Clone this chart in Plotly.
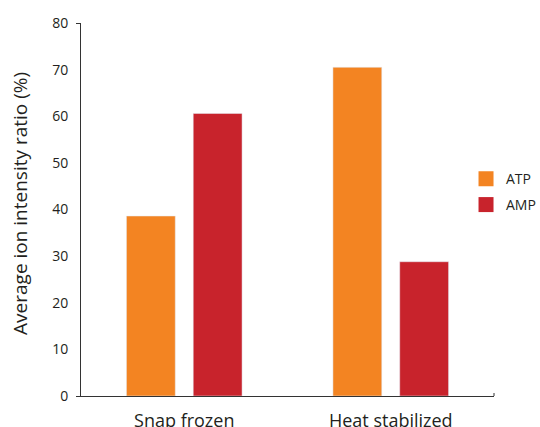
import plotly.graph_objects as go

categories = ["Snap frozen", "Heat stabilized"]
atp = [38.6, 70.5]
amp = [60.6, 28.8]
series_names = ["ATP", "AMP"]
colors = ["#F38422", "#C8232C"]
ytick_vals = [0, 10, 20, 30, 40, 50, 60, 70, 80]

FONT = "Open Sans"
TXT = "#231F20"

fig = go.Figure()
for name, vals, col in zip(series_names, [atp, amp], colors):
    fig.add_trace(go.Bar(x=categories, y=vals, name=name, marker_color=col,
                         showlegend=False))
# legend swatches (larger squares), one legend per entry
for name, col, lg in zip(series_names, colors, ["legend", "legend2"]):
    fig.add_trace(go.Scatter(x=[None], y=[None], mode="markers", name=name,
                             marker=dict(symbol="square", size=15, color=col),
                             legend=lg))

leg_common = dict(xref="container", x=0.863, xanchor="left", yref="paper",
                  yanchor="top", font=dict(size=14, color=TXT),
                  bgcolor="rgba(0,0,0,0)")

fig.update_layout(
    width=540, height=427,
    margin=dict(l=81, r=46, t=22.5, b=30.5, autoexpand=False),
    paper_bgcolor="white", plot_bgcolor="white",
    barmode="group", bargap=0.353, bargroupgap=0.269,
    font=dict(family=FONT, color=TXT),
    legend=dict(y=0.624, **leg_common),
    legend2=dict(y=0.555, **leg_common),
    xaxis=dict(showline=True, linecolor="#333", linewidth=1, ticks="",
               tickfont=dict(size=18, color=TXT), automargin=False,
               showgrid=False, zeroline=False, ticklabelstandoff=8),
    yaxis=dict(range=[0, 80], tickvals=ytick_vals, showline=True,
               linecolor="#333", linewidth=1, ticks="", showgrid=False,
               zeroline=False, tickfont=dict(size=14, color=TXT),
               ticklabelstandoff=9, automargin=False,
               minor=dict(tickvals=[0, 80], ticks="outside", ticklen=4,
                          tickcolor="#333")),
    annotations=[dict(text="Average ion intensity ratio (%)", textangle=-90,
                      xref="paper", yref="paper", x=0, y=0.515,
                      xanchor="center", yanchor="middle", xshift=-61,
                      showarrow=False, font=dict(size=19, color=TXT))],
)
fig.add_shape(type="line", xref="paper", yref="y", x0=1, x1=1,
              ysizemode="pixel", yanchor=0, y0=-3, y1=3,
              line=dict(color="#333", width=1))
fig.write_html(
    "out.html",
    config={"displayModeBar": False},
    post_script="document.body.style.margin='0';"
                "document.body.style.overflow='hidden';",
)
